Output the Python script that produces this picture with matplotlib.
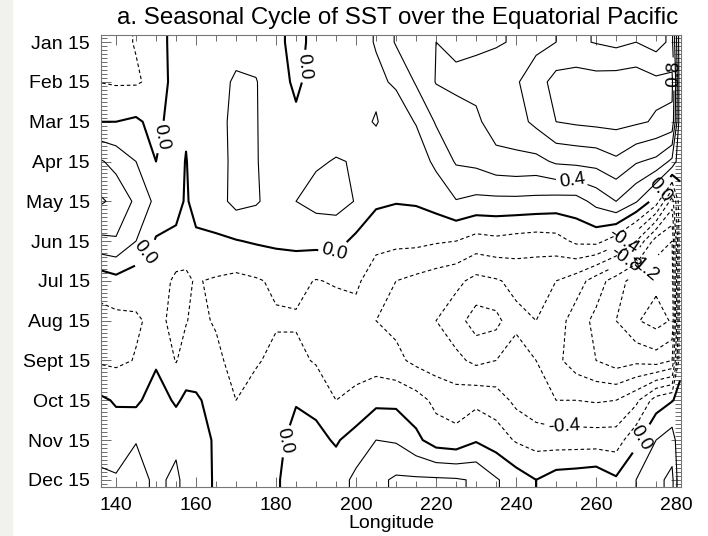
import numpy as np
import matplotlib
matplotlib.use("Agg")
import matplotlib.pyplot as plt
from matplotlib.ticker import MultipleLocator

plt.rcParams['font.family'] = ['Liberation Sans', 'DejaVu Sans']

# longitude grid (deg E); last column is the coastal edge point
lons = [135, 140, 145, 150, 155, 157.5, 160, 165, 170, 175, 180, 185, 190, 195, 200, 205,
        210, 215, 220, 225, 230, 235, 240, 245, 250, 255, 260, 265, 270, 275, 279, 281]
month_labels = ['Jan 15', 'Feb 15', 'Mar 15', 'Apr 15', 'May 15', 'Jun 15',
                'Jul 15', 'Aug 15', 'Sept 15', 'Oct 15', 'Nov 15', 'Dec 15']

# SST seasonal anomaly (deg C), one list per month
sst_jan = [-0.25, -0.25, -0.19, -0.10, 0.08, 0.06, 0.10, 0.10, 0.15, 0.12, 0.04, -0.05, 0.05, 0.08, 0.14, 0.21,
           0.42, 0.55, 0.60, 0.57, 0.57, 0.58, 0.62, 0.75, 0.80, 0.83, 0.79, 0.75, 0.80, 0.72, 0.85, 0.05]
sst_feb = [-0.20, -0.22, -0.22, -0.15, 0.10, 0.06, 0.12, 0.15, 0.22, 0.21, 0.07, -0.03, 0.07, 0.10, 0.15, 0.17,
           0.22, 0.42, 0.61, 0.63, 0.66, 0.72, 0.78, 0.90, 1.08, 1.10, 1.08, 1.10, 1.12, 1.05, 1.05, 0.05]
sst_mar = [0.00, 0.00, 0.03, -0.06, 0.10, 0.03, 0.12, 0.15, 0.24, 0.21, 0.10, 0.03, 0.10, 0.12, 0.16, 0.21,
           0.12, 0.21, 0.42, 0.54, 0.56, 0.70, 0.72, 0.85, 1.00, 1.03, 1.05, 1.06, 1.03, 0.98, 0.95, 0.05]
sst_apr = [0.45, 0.33, 0.20, 0.00, 0.08, -0.01, 0.10, 0.14, 0.24, 0.21, 0.12, 0.12, 0.18, 0.21, 0.19, 0.12,
           0.10, 0.10, 0.24, 0.42, 0.45, 0.53, 0.55, 0.54, 0.63, 0.65, 0.67, 0.76, 0.62, 0.55, 0.35, 0.05]
sst_may = [0.65, 0.55, 0.36, 0.15, 0.15, -0.05, 0.15, 0.12, 0.26, 0.22, 0.12, 0.20, 0.26, 0.27, 0.19, 0.03,
           0.01, 0.02, 0.08, 0.19, 0.15, 0.15, 0.15, 0.14, 0.12, 0.12, 0.26, 0.40, 0.22, -0.10, -0.70, -0.05]
sst_jun = [0.35, 0.38, 0.20, -0.02, -0.10, -0.15, -0.08, -0.03, -0.01, 0.02, 0.04, 0.05, 0.06, 0.07, -0.05, -0.12,
           -0.15, -0.15, -0.18, -0.20, -0.28, -0.25, -0.28, -0.30, -0.28, -0.16, -0.14, -0.30, -0.60, -1.10, -1.20, -0.05]
sst_jul = [-0.15, -0.07, -0.13, -0.12, -0.23, -0.22, -0.19, -0.22, -0.25, -0.22, -0.17, -0.15, -0.21, -0.18, -0.15, -0.35,
           -0.40, -0.45, -0.50, -0.55, -0.66, -0.62, -0.55, -0.55, -0.60, -0.70, -0.90, -1.10, -1.30, -1.35, -1.30, -0.05]
sst_aug = [-0.25, -0.25, -0.22, -0.16, -0.24, -0.21, -0.15, -0.22, -0.30, -0.24, -0.22, -0.22, -0.26, -0.30, -0.30, -0.40,
           -0.45, -0.55, -0.60, -0.72, -0.89, -0.86, -0.65, -0.60, -0.70, -0.90, -1.05, -1.20, -1.38, -1.48, -1.38, -0.05]
sst_sep = [-0.22, -0.24, -0.19, -0.03, -0.21, -0.12, -0.12, -0.15, -0.28, -0.22, -0.15, -0.15, -0.22, -0.25, -0.28, -0.30,
           -0.35, -0.45, -0.50, -0.55, -0.65, -0.60, -0.50, -0.60, -0.75, -0.90, -1.00, -1.10, -1.05, -1.10, -1.00, -0.05]
sst_oct = [0.05, -0.02, -0.04, 0.10, -0.03, 0.04, 0.03, -0.08, -0.20, -0.12, -0.08, -0.01, -0.05, -0.20, -0.15, -0.05,
           -0.05, -0.12, -0.25, -0.30, -0.25, -0.30, -0.45, -0.55, -0.60, -0.60, -0.62, -0.60, -0.45, -0.10, -0.01, 0.05]
sst_nov = [0.08, 0.10, 0.19, 0.18, 0.15, 0.10, 0.10, -0.03, -0.10, -0.08, -0.04, 0.05, 0.05, -0.02, 0.08, 0.20,
           0.18, 0.05, -0.10, -0.13, -0.02, -0.10, -0.22, -0.28, -0.30, -0.30, -0.30, -0.30, -0.05, 0.20, 0.30, 0.05]
sst_dec = [0.27, 0.22, 0.30, 0.15, 0.25, 0.12, 0.08, -0.02, -0.05, -0.05, -0.02, 0.08, 0.12, 0.10, 0.25, 0.35,
           0.43, 0.43, 0.43, 0.42, 0.38, 0.22, 0.10, 0.00, 0.10, 0.12, 0.15, 0.03, 0.20, 0.35, 0.45, 0.05]

sst = np.array([sst_jan, sst_feb, sst_mar, sst_apr, sst_may, sst_jun,
                sst_jul, sst_aug, sst_sep, sst_oct, sst_nov, sst_dec])
months = np.arange(12)

# pad first/last month so the contours run to the frame
y = np.concatenate([[-0.3], months, [11.3]])
z = np.vstack([sst[:1], sst, sst[-1:]])
x = np.array(lons, dtype=float)

# contour every 0.2, label every 0.4
neg_plain = [-1.4, -1.0, -0.6, -0.2]
neg_lab = [-1.2, -0.8, -0.4]
pos_plain = [0.2, 0.6, 1.0]
pos_lab = [0.4, 0.8]

fig = plt.figure(figsize=(7.08, 5.36), dpi=100)
fig.patches.append(plt.Rectangle((0, 0), 0.017, 1, transform=fig.transFigure,
                                 color='#f1f1ed', zorder=0))
ax = fig.add_axes([0.1427, 0.0914, 0.8193, 0.8433])

dash = (0, (3.2, 2.4))
thin = dict(colors='k', linewidths=0.8)
ax.contour(x, y, z, levels=neg_plain, linestyles=[dash], **thin)
cn = ax.contour(x, y, z, levels=neg_lab, linestyles=[dash], **thin)
ax.contour(x, y, z, levels=pos_plain, linestyles='solid', **thin)
cp = ax.contour(x, y, z, levels=pos_lab, linestyles='solid', **thin)
c0 = ax.contour(x, y, z, levels=[0.0], colors='k', linewidths=1.5, linestyles='solid')

lab_kw = dict(fmt='%.1f', fontsize=13.5, inline=True, inline_spacing=3)
ax.clabel(c0, manual=[(152, 2.4), (146, 5.2), (186.6, 0.6), (194.5, 5.35),
                      (180.3, 10.0), (269.5, 9.85), (276.5, 3.75)], **lab_kw)
ax.clabel(cp, manual=[(254, 3.45), (279.1, 0.8)], **lab_kw)
ax.clabel(cn, manual=[(267.6, 5.1), (267.8, 5.55), (272.8, 5.78), (252, 9.7)], **lab_kw)

ax.set_xlim(136.25, 281.25)
ax.set_ylim(11.18, -0.18)
ax.set_xticks(np.arange(140, 281, 20))
ax.xaxis.set_minor_locator(MultipleLocator(5))
ax.set_yticks(months)
ax.set_yticklabels(month_labels)
ax.yaxis.set_minor_locator(MultipleLocator(0.1))
ax.tick_params(which='both', direction='in', top=True, right=True, labelsize=14, width=0.6,
               color='#555555')
ax.tick_params(axis='y', which='major', pad=8)
ax.tick_params(axis='x', which='major', pad=7)
ax.tick_params(which='major', length=7)
ax.tick_params(which='minor', length=4)
for sp in ax.spines.values():
    sp.set_linewidth(0.8)
    sp.set_color('#777777')

ax.set_xlabel('Longitude', fontsize=14, labelpad=1)
ax.set_title('a. Seasonal Cycle of SST over the Equatorial Pacific', fontsize=17.4, pad=8, x=0.512)

fig.savefig('out.png', dpi=100)
